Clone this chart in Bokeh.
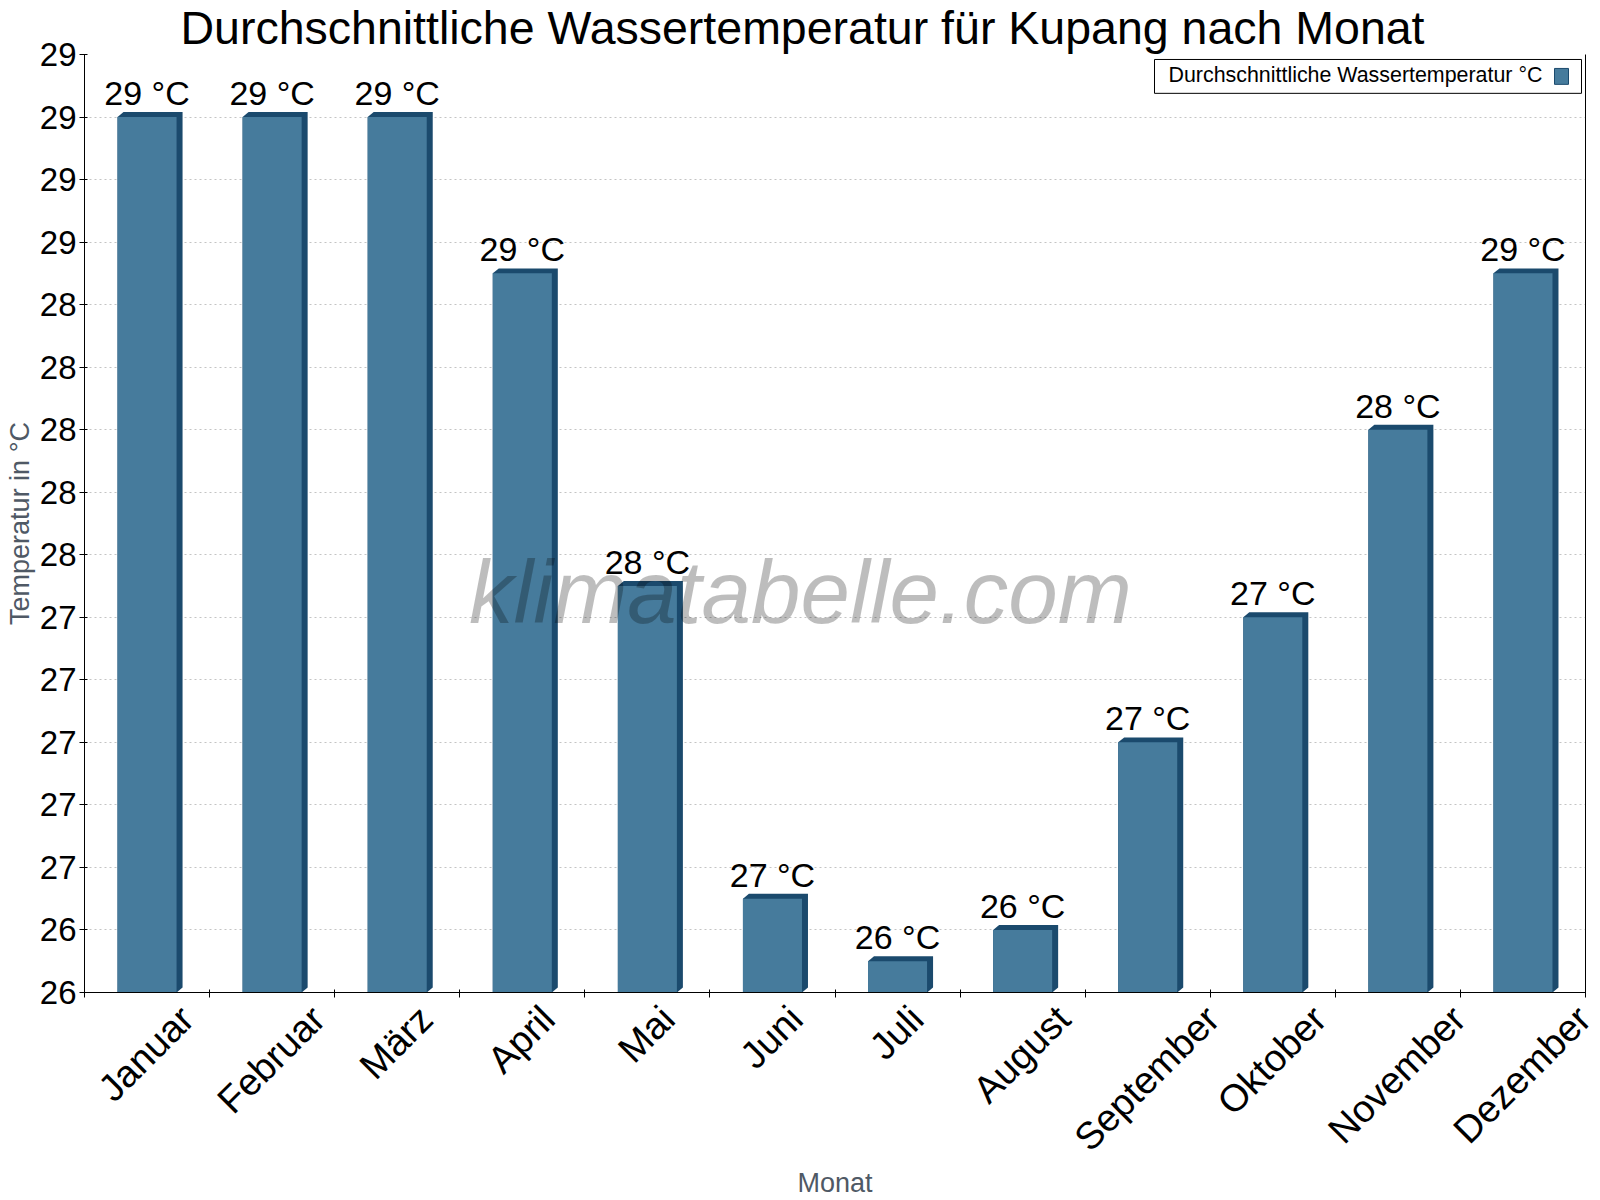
import math
from bokeh.plotting import figure
from bokeh.models import (ColumnDataSource, FixedTicker, LinearAxis, Label,
                          BoxAnnotation, Range1d, Title)
from bokeh.embed import file_html
from bokeh.resources import INLINE
from bokeh.core.properties import value

# ---------------- data ----------------
months = ["Januar", "Februar", "März", "April", "Mai", "Juni", "Juli",
          "August", "September", "Oktober", "November", "Dezember"]
water_temp = [29.0, 29.0, 29.0, 28.5, 27.5, 26.5, 26.3, 26.4, 27.0, 27.4, 28.0, 28.5]
value_labels = ["29 °C", "29 °C", "29 °C", "29 °C", "28 °C", "27 °C", "26 °C",
                "26 °C", "27 °C", "27 °C", "28 °C", "29 °C"]
y_ticks = [26.2, 26.4, 26.6, 26.8, 27.0, 27.2, 27.4, 27.6, 27.8, 28.0,
           28.2, 28.4, 28.6, 28.8, 29.0, 29.2]
y_tick_labels = ["26", "26", "27", "27", "27", "27", "27", "28", "28", "28",
                 "28", "28", "29", "29", "29", "29"]
title_text = "Durchschnittliche Wassertemperatur für Kupang nach Monat"
legend_text = "Durchschnittliche Wassertemperatur °C"
x_title = "Monat"
y_title = "Temperatur in °C"
watermark = "klimatabelle.com"

# ---------------- styling / layout ----------------
W, H = 1600, 1200
FL, FR, FT, FB = 84, 1585, 53, 995          # frame edges in canvas pixels
FONT = "Liberation Sans"
FACE = "#467b9c"
DARK = "#1b4a6d"
AXIS_GREY = "#4f5965"
Y0, Y1 = y_ticks[0], y_ticks[-1]
N = len(months)
BAR_W = 0.472
DEPTH_X_PX, DEPTH_Y_PX = 6, 5
XLAB_PX = 38

# approximate advance widths (per 1000 em) of Liberation Sans, used only to
# centre the rotated month labels under their bars
CHAR_W = {"J": 500, "a": 556, "n": 556, "u": 556, "r": 333, "F": 611, "e": 556,
          "b": 556, "M": 833, "ä": 556, "z": 500, "A": 667, "p": 556, "i": 222,
          "l": 222, "g": 556, "s": 500, "t": 278, "S": 667, "m": 833, "O": 778,
          "k": 500, "o": 556, "N": 722, "v": 500, "D": 722}

fw, fh = FR - FL, FB - FT
dx = DEPTH_X_PX / (fw / N)
dy = DEPTH_Y_PX / (fh / (Y1 - Y0))


def xd(px):
    """canvas x pixel -> data x"""
    return (px - FL) / fw * N


def yd(py):
    """canvas y pixel -> data y"""
    return Y1 - (py - FT) / fh * (Y1 - Y0)


centers = [i + 0.5 for i in range(N)]
xs, ys = [], []
for c, v in zip(centers, water_temp):
    xl, xr = c - BAR_W / 2, c + BAR_W / 2
    xs.append([xl, xl, xl + dx, xr + dx, xr + dx, xr])
    ys.append([Y0, v, v + dy, v + dy, Y0 + dy, Y0])

p = figure(width=W, height=H, output_backend="svg", toolbar_location=None,
           x_range=Range1d(0, N), y_range=Range1d(Y0, Y1),
           min_border_left=FL, min_border_right=W - FR,
           min_border_top=FT, min_border_bottom=H - FB)
p.outline_line_color = None
p.background_fill_color = "white"
p.border_fill_color = "white"

# title
p.add_layout(Title(text=title_text, align="left", offset=96, standoff=0,
                   text_font=FONT, text_font_size="46.5px",
                   text_font_style="normal", text_color="black",
                   vertical_align="middle"), "above")

# 3D depth + face
p.patches(xs=xs, ys=ys, fill_color=DARK, line_color=None)
src = ColumnDataSource(dict(x=centers, top=water_temp, lab=value_labels))
p.vbar(x="x", top="top", bottom=Y0, width=BAR_W, source=src,
       fill_color=FACE, line_color=None)
p.text(x="x", y="top", text="lab", source=src, y_offset=-24,
       text_align="center", text_baseline="alphabetic",
       text_font=value(FONT), text_font_size="34px", text_color="black")

# x axis: rotated month labels, centred under each bar
label_pos = []
for c, m in zip(centers, months):
    L = sum(CHAR_W.get(ch, 556) for ch in m) / 1000 * XLAB_PX
    label_pos.append(c + (0.3535 * L - 1) / (fw / N))
xa = p.xaxis[0]
xa.ticker = FixedTicker(ticks=label_pos, minor_ticks=list(range(N + 1)))
xa.major_label_overrides = {c: m for c, m in zip(label_pos, months)}
xa.major_label_orientation = math.pi / 4
xa.major_label_text_font = FONT
xa.major_label_text_font_size = f"{XLAB_PX}px"
xa.major_label_text_color = "black"
xa.major_tick_in = 0
xa.major_tick_out = 0
xa.minor_tick_in = 3
xa.minor_tick_out = 5
xa.minor_tick_line_color = "black"
xa.axis_line_color = "black"
xa.major_label_standoff = 15
xa.axis_label = x_title
xa.axis_label_text_font = FONT
xa.axis_label_text_font_style = "normal"
xa.axis_label_text_font_size = "27px"
xa.axis_label_text_color = AXIS_GREY
xa.axis_label_standoff = -9

# y axis
ya = p.yaxis[0]
ya.ticker = FixedTicker(ticks=y_ticks)
ya.major_label_overrides = {t: l for t, l in zip(y_ticks, y_tick_labels)}
ya.major_label_text_font = FONT
ya.major_label_text_font_size = "33px"
ya.major_label_text_color = "black"
ya.major_tick_in = 3
ya.major_tick_out = 5
ya.major_tick_line_color = "black"
ya.minor_tick_line_color = None
ya.axis_line_color = "black"
ya.major_label_standoff = 3
ya.axis_label = y_title
ya.axis_label_text_font = FONT
ya.axis_label_text_font_style = "normal"
ya.axis_label_text_font_size = "27px"
ya.axis_label_text_color = AXIS_GREY
ya.axis_label_standoff = 2

# right frame line
ra = LinearAxis(ticker=FixedTicker(ticks=[]), major_label_text_font_size="0px",
                major_tick_in=0, major_tick_out=0, minor_tick_in=0,
                minor_tick_out=0, axis_line_color="black",
                major_label_standoff=0)
p.add_layout(ra, "right")

p.xgrid.visible = False
p.ygrid.ticker = FixedTicker(ticks=y_ticks)
p.ygrid.grid_line_color = "#c4c4c4"
p.ygrid.grid_line_dash = "2 3"

# watermark
p.add_layout(Label(x=xd(800), y=yd(593), text=watermark, text_align="center",
                   text_baseline="alphabetic", text_font=FONT,
                   text_font_style="italic", text_font_size="89px",
                   text_color="black", text_alpha=0.26))

# legend (custom: swatch on the right as in the reference)
p.add_layout(BoxAnnotation(left=xd(1154), right=xd(1581), top=yd(58), bottom=yd(92),
                           fill_color="white", fill_alpha=1.0,
                           line_color="black", line_width=1, line_alpha=1.0))
p.add_layout(Label(x=xd(1168), y=yd(73.5), text=legend_text, text_align="left",
                   text_baseline="alphabetic", text_font=FONT,
                   text_font_size="21.4px", text_color="black"))
p.add_layout(BoxAnnotation(left=xd(1554), right=xd(1568), top=yd(67), bottom=yd(83),
                           fill_color=FACE, fill_alpha=1.0,
                           line_color=DARK, line_width=1, line_alpha=1.0))

open("out.html", "w").write(file_html(p, INLINE))
